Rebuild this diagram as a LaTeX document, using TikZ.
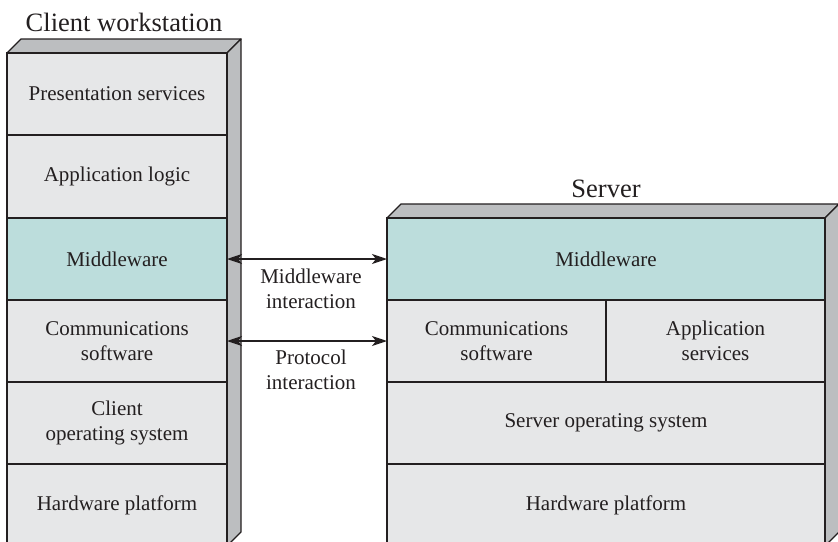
\documentclass[tikz,border=0pt]{standalone}
\usepackage{fontspec}
\setmainfont{Liberation Serif}
\usetikzlibrary{arrows.meta}
\definecolor{layer}{HTML}{E6E7E8}
\definecolor{midfill}{HTML}{BCDDDC}
\definecolor{sidefill}{HTML}{BCBEC0}
\definecolor{ink}{HTML}{231F20}
\tikzset{
  layerbox/.style={draw=ink, line width=1.3pt, fill=layer, inner sep=0pt, outer sep=0pt,
    text=ink, align=center, font=\fontsize{21}{25}\selectfont},
  midbox/.style={layerbox, fill=midfill},
  face/.style={draw=ink, line width=1.3pt, fill=sidefill, line join=round},
  lbl/.style={text=ink, align=center, font=\fontsize{21}{25}\selectfont, inner sep=0pt},
  ttl/.style={text=ink, font=\fontsize{26.5}{30}\selectfont, inner sep=0pt, anchor=base},
  arr/.style={draw=ink, line width=1.6pt, {Stealth[length=15pt,width=10pt,inset=4pt]}-{Stealth[length=15pt,width=10pt,inset=4pt]}}
}
\begin{document}
\begin{tikzpicture}[x=1pt,y=-1pt]
\useasboundingbox (0,0) rectangle (838,541);
\clip (0,0) rectangle (838,541);
% client 3D faces
\draw[face] (7,53) -- (21,39) -- (241,39) -- (227,53) -- cycle;
\draw[face] (227,53) -- (241,39) -- (241,532) -- (227,546) -- cycle;
% client layers
\node[layerbox, minimum width=220pt, minimum height=82pt] (cpres) at (117,94) {Presentation services};
\node[layerbox, minimum width=220pt, minimum height=83pt] (capp) at (117,176.5) {Application logic};
\node[midbox, minimum width=220pt, minimum height=82pt] (cmid) at (117,259) {Middleware};
\node[layerbox, minimum width=220pt, minimum height=82pt] (ccom) at (117,341) {Communications\\software};
\node[layerbox, minimum width=220pt, minimum height=82pt] (cos) at (117,423) {Client\\operating system};
\node[layerbox, minimum width=220pt, minimum height=82pt] (chw) at (117,505) {Hardware platform};
% server 3D faces
\draw[face] (387,218) -- (401,204) -- (839,204) -- (825,218) -- cycle;
\draw[face] (825,218) -- (839,204) -- (839,532) -- (825,546) -- cycle;
% server layers
\node[midbox, minimum width=438pt, minimum height=82pt] (smid) at (606,259) {Middleware};
\node[layerbox, minimum width=219pt, minimum height=82pt] (scom) at (496.5,341) {Communications\\software};
\node[layerbox, minimum width=219pt, minimum height=82pt] (sapp) at (715.5,341) {Application\\services};
\node[layerbox, minimum width=438pt, minimum height=82pt] (sos) at (606,423) {Server operating system};
\node[layerbox, minimum width=438pt, minimum height=82pt] (shw) at (606,505) {Hardware platform};
% titles
\node[ttl] (tclient) at (124,31) {Client workstation};
\node[ttl] (tserver) at (606,197) {Server};
% interactions
\draw[arr] (cmid.east) -- (smid.west);
\draw[arr] (ccom.east) -- (scom.west);
\node[lbl] (lmid) at (311,289) {Middleware\\interaction};
\node[lbl] (lprot) at (311,370) {Protocol\\interaction};
\end{tikzpicture}
\end{document}
